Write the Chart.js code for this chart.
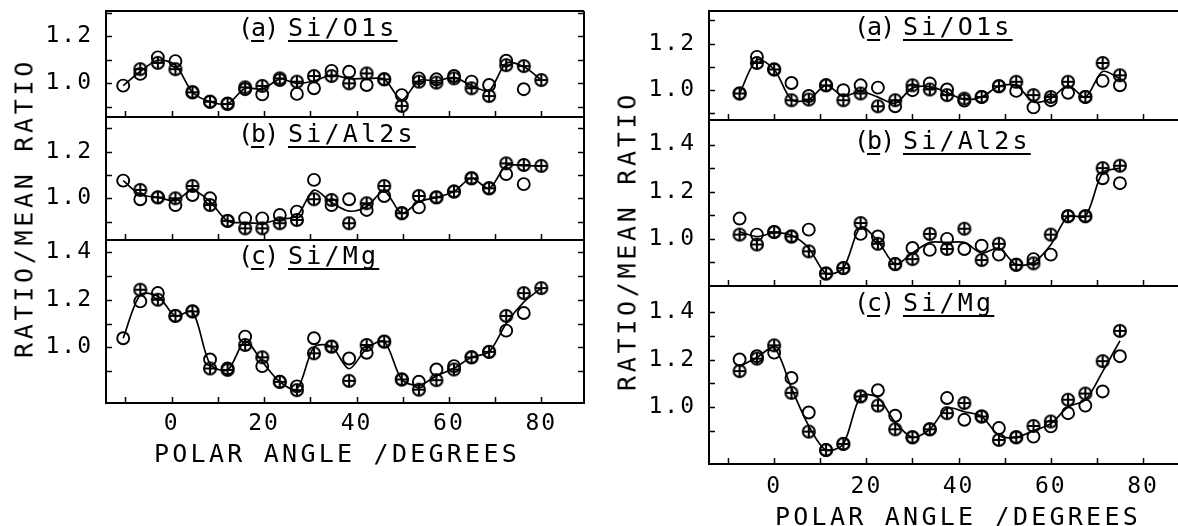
<!DOCTYPE html>
<html><head><meta charset="utf-8">
<script src="https://cdn.jsdelivr.net/npm/chart.js@4/dist/chart.umd.min.js"></script>
<style>
html,body{margin:0;padding:0;background:#fff;overflow:hidden;width:1178px;height:526px;position:relative;}
canvas.cv{position:absolute;}
.txt{position:absolute;font-family:'DejaVu Sans Mono',monospace;font-size:25px;line-height:25px;color:#000;white-space:nowrap;}
.txt u{text-decoration:underline;text-decoration-thickness:2px;text-underline-offset:4px;text-decoration-skip-ink:none;}
.ytitle{letter-spacing:3.7px;transform:translate(-50%,-50%) rotate(-90deg);}
.xtitle{letter-spacing:3.25px;transform:translateX(-50%);}
</style></head><body>
<script>
// ---------------- data ----------------
const leftAngles  = [-10.5, -6.8, -3.0, 0.8, 4.5, 8.3, 12.1, 15.9, 19.6, 23.4, 27.1, 30.8, 34.6, 38.4, 42.2, 46.0, 49.8, 53.5, 57.3, 61.1, 64.9, 68.7, 72.4, 76.2, 80.0];
const rightAngles = [-7.5, -3.75, 0, 3.75, 7.5, 11.25, 15, 18.75, 22.5, 26.25, 30, 33.75, 37.5, 41.25, 45, 48.75, 52.5, 56.25, 60, 63.75, 67.5, 71.25, 75];

// left panel (a) Si/O1s
const leftO1sOpen = [0.99, 1.04, 1.11, 1.094, 0.962, 0.922, 0.915, 0.975, 0.953, 1.014, 0.955, 0.979, 1.053, 1.049, 0.993, 1.017, 0.95, 1.021, 1.017, 1.031, 1.007, 0.993, 1.096, 0.975, null];
const leftO1sPlus = [null, 1.06, 1.087, 1.06, 0.962, 0.922, 0.912, 0.983, 0.989, 1.021, 1.007, 1.031, 1.031, 1.0, 1.042, 1.017, 0.904, 1.007, 1.003, 1.021, 0.979, 0.946, 1.077, 1.073, 1.014];
const leftO1sLine = [0.99, 1.05, 1.098, 1.077, 0.962, 0.922, 0.913, 0.979, 0.975, 1.018, 1.0, 1.01, 1.035, 1.02, 1.02, 1.017, 0.93, 1.012, 1.01, 1.025, 0.99, 0.97, 1.085, 1.07, 1.014];
// left panel (b) Si/Al2s
const leftAlOpen = [1.076, 0.996, 1.004, 0.971, 1.014, 1.0, 0.903, 0.914, 0.914, 0.928, 0.943, 1.079, 0.971, 0.996, 0.95, 1.01, 0.936, 0.961, 1.004, 1.029, 1.086, 1.043, 1.104, 1.061, null];
const leftAlPlus = [null, 1.036, 1.004, 1.0, 1.053, 0.971, 0.903, 0.871, 0.871, 0.893, 0.907, 0.996, 0.993, 0.893, 0.979, 1.053, 0.936, 1.01, 1.004, 1.029, 1.086, 1.043, 1.15, 1.143, 1.139];
const leftAlLine = [1.076, 1.016, 1.004, 0.99, 1.035, 0.985, 0.903, 0.895, 0.893, 0.91, 0.925, 1.035, 0.982, 0.945, 0.965, 1.03, 0.936, 0.985, 1.004, 1.029, 1.086, 1.043, 1.14, 1.14, 1.139];
// left panel (c) Si/Mg
const leftMgOpen = [1.038, 1.193, 1.228, 1.132, 1.151, 0.949, 0.911, 1.045, 0.921, 0.855, 0.836, 1.038, 1.003, 0.953, 0.977, 1.024, 0.865, 0.855, 0.907, 0.921, 0.958, 0.981, 1.07, 1.144, null];
const leftMgPlus = [null, 1.242, 1.2, 1.132, 1.151, 0.911, 0.905, 1.01, 0.958, 0.855, 0.82, 0.975, 1.003, 0.859, 1.01, 1.024, 0.865, 0.822, 0.862, 0.907, 0.958, 0.981, 1.132, 1.228, 1.249];
const leftMgLine = [1.038, 1.22, 1.215, 1.132, 1.151, 0.93, 0.905, 1.025, 0.94, 0.855, 0.825, 1.0, 1.003, 0.91, 0.995, 1.024, 0.865, 0.84, 0.88, 0.912, 0.958, 0.981, 1.1, 1.19, 1.249];

// right panel (a) Si/O1s
const rightO1sOpen = [0.986, 1.143, 1.089, 1.031, 0.975, 1.021, 1.0, 1.021, 1.011, 0.931, 1.0, 1.029, 1.003, 0.955, 0.971, 1.017, 0.997, 0.926, 0.957, 0.989, 0.971, 1.04, 1.021];
const rightO1sPlus = [0.986, 1.117, 1.089, 0.957, 0.96, 1.021, 0.957, 0.986, 0.931, 0.957, 1.021, 1.003, 0.979, 0.964, 0.971, 1.017, 1.036, 0.979, 0.971, 1.036, 0.971, 1.117, 1.064];
const rightO1sLine = [0.986, 1.13, 1.089, 0.96, 0.96, 1.021, 0.975, 0.995, 0.97, 0.944, 1.01, 1.015, 0.99, 0.96, 0.971, 1.017, 1.02, 0.95, 0.964, 1.02, 0.971, 1.08, 1.05];
// right panel (b) Si/Al2s
const rightAlOpen = [1.086, 1.018, 1.029, 1.01, 1.039, 0.853, 0.876, 1.021, 1.01, 0.893, 0.961, 0.953, 1.0, 0.957, 0.971, 0.933, 0.89, 0.914, 0.933, 1.096, 1.096, 1.257, 1.236];
const rightAlPlus = [1.018, 0.976, 1.029, 1.01, 0.947, 0.853, 0.876, 1.067, 0.979, 0.893, 0.914, 1.021, 0.957, 1.043, 0.91, 0.979, 0.89, 0.896, 1.018, 1.096, 1.096, 1.3, 1.31];
const rightAlLine = [1.03, 1.01, 1.025, 1.015, 0.96, 0.853, 0.876, 1.05, 0.99, 0.893, 0.94, 0.985, 0.985, 0.985, 0.94, 0.96, 0.89, 0.9, 0.975, 1.096, 1.096, 1.28, 1.3];
// right panel (c) Si/Mg
const rightMgOpen = [1.201, 1.215, 1.23, 1.123, 0.977, 0.818, 0.844, 1.045, 1.071, 0.963, 0.872, 0.906, 1.038, 0.946, 0.96, 0.911, 0.872, 0.875, 0.918, 0.974, 1.006, 1.066, 1.215];
const rightMgPlus = [1.152, 1.205, 1.261, 1.06, 0.896, 0.818, 0.844, 1.045, 1.006, 0.906, 0.872, 0.906, 0.974, 1.017, 0.96, 0.861, 0.872, 0.92, 0.939, 1.031, 1.057, 1.194, 1.322];
const rightMgLine = [1.17, 1.21, 1.25, 1.08, 0.92, 0.818, 0.844, 1.045, 1.04, 0.935, 0.872, 0.906, 0.995, 0.98, 0.96, 0.88, 0.872, 0.9, 0.93, 1.0, 1.03, 1.15, 1.28];

// ticks
const xTickValues = [-10, 0, 10, 20, 30, 40, 50, 60, 70, 80];
const xTickLabels = ['0', '20', '40', '60', '80'];
const yTicksSmall = [0.9, 1.0, 1.1, 1.2, 1.3];
const yTicksLarge = [0.9, 1.0, 1.1, 1.2, 1.3, 1.4];
const yTickLabels = ['1.0', '1.2', '1.4'];

const yTitle = 'RATIO/MEAN RATIO';
const xTitle = 'POLAR ANGLE /DEGREES';
const subLetters = ['a', 'b', 'c'];
const subNames = ['Si/O1s', 'Si/Al2s', 'Si/Mg'];

// ---------------- layout / style ----------------
const FONT = "'DejaVu Sans Mono', monospace";
const YW = 100, PAD = 4, XH = 44;

const panels = [
  {angles: leftAngles, open: leftO1sOpen, plus: leftO1sPlus, line: leftO1sLine, yTicks: yTicksSmall, xr: [-14.22, 89.24], yr: [0.857, 1.307], box: [106, 11, 584, 117], mirror: true, right: true, bottom: false, sub: 0, lab: [241, 290, 18]},
  {angles: leftAngles, open: leftAlOpen,  plus: leftAlPlus,  line: leftAlLine,  yTicks: yTicksSmall, xr: [-14.22, 89.24], yr: [0.821, 1.349], box: [106, 117, 584, 240], mirror: true, right: true, bottom: false, sub: 1, lab: [241, 290, 124]},
  {angles: leftAngles, open: leftMgOpen,  plus: leftMgPlus,  line: leftMgLine,  yTicks: yTicksLarge, xr: [-14.22, 89.24], yr: [0.766, 1.451], box: [106, 240, 584, 403], mirror: true, right: true, bottom: true, xpad: 7, sub: 2, lab: [241, 290, 246]},
  {angles: rightAngles, open: rightO1sOpen, plus: rightO1sPlus, line: rightO1sLine, yTicks: yTicksSmall, xr: [-14.14, 88.9], yr: [0.872, 1.34], box: [709, 11, 1184, 120], mirror: false, right: false, bottom: false, sub: 0, lab: [857, 905, 17]},
  {angles: rightAngles, open: rightAlOpen,  plus: rightAlPlus,  line: rightAlLine,  yTicks: yTicksLarge, xr: [-14.14, 88.9], yr: [0.80, 1.504], box: [709, 120, 1184, 286], mirror: false, right: false, bottom: false, sub: 1, lab: [857, 905, 131]},
  {angles: rightAngles, open: rightMgOpen,  plus: rightMgPlus,  line: rightMgLine,  yTicks: yTicksLarge, xr: [-14.14, 88.9], yr: [0.759, 1.512], box: [709, 286, 1184, 464], mirror: false, right: false, bottom: true, xpad: 9, sub: 2, lab: [857, 905, 293]}
];

function plusMarker(r, lw) {
  const s = 2 * Math.ceil(r + lw);
  const cv = document.createElement('canvas');
  cv.width = s; cv.height = s;
  const g = cv.getContext('2d');
  const c = s / 2;
  g.strokeStyle = '#000'; g.lineWidth = lw;
  g.beginPath(); g.arc(c, c, r, 0, 2 * Math.PI); g.stroke();
  g.beginPath(); g.moveTo(c - r, c); g.lineTo(c + r, c); g.moveTo(c, c - r); g.lineTo(c, c + r); g.stroke();
  return cv;
}
const plusImg = plusMarker(6, 2.1);

const framePlugin = {
  id: 'frame',
  beforeDraw(chart) { chart.ctx.letterSpacing = '2px'; },
  afterDraw(chart, args, opts) {
    const {ctx, chartArea: a, scales: {x, y}} = chart;
    ctx.save();
    ctx.letterSpacing = '0px';
    ctx.strokeStyle = '#000';
    ctx.lineWidth = 2;
    ctx.beginPath();
    ctx.moveTo(a.right + (opts.right ? 0 : 10), a.top);
    ctx.lineTo(a.left, a.top);
    ctx.lineTo(a.left, a.bottom);
    ctx.lineTo(a.right + (opts.right ? 0 : 10), a.bottom);
    if (opts.right) ctx.lineTo(a.right, a.top);
    ctx.stroke();
    ctx.lineWidth = 1.5;
    ctx.beginPath();
    y.ticks.forEach(t => {
      const py = Math.round(y.getPixelForValue(t.value)) + 0.5;
      ctx.moveTo(a.left, py); ctx.lineTo(a.left + 6, py);
      if (opts.mirror) { ctx.moveTo(a.right, py); ctx.lineTo(a.right - 6, py); }
    });
    x.ticks.forEach(t => {
      const px = Math.round(x.getPixelForValue(t.value)) + 0.5;
      ctx.moveTo(px, a.bottom); ctx.lineTo(px, a.bottom - 6);
    });
    ctx.stroke();
    ctx.restore();
  }
};

const pts = (xs, ys) => xs.map((v, i) => ({x: v, y: ys[i]}));
const near = (v, arr) => arr.find(s => Math.abs(parseFloat(s) - v) < 1e-6);

function makeChart(p) {
  const [L, T, R, B] = p.box;
  const W = YW + (R - L) + PAD;
  const H = PAD + (B - T) + (p.bottom ? XH : PAD);
  const c = document.createElement('canvas');
  c.className = 'cv';
  c.width = W; c.height = H;
  c.style.left = (L - YW) + 'px'; c.style.top = (T - PAD) + 'px';
  c.style.width = W + 'px'; c.style.height = H + 'px';
  document.body.appendChild(c);
  new Chart(c, {
    type: 'line',
    data: {datasets: [
      {data: pts(p.angles, p.plus), showLine: false, pointStyle: plusImg, pointRadius: 6, borderColor: '#000', backgroundColor: '#000'},
      {data: pts(p.angles, p.open), showLine: false, pointStyle: 'circle', pointRadius: 6, pointBorderWidth: 1.9, borderColor: '#000', backgroundColor: 'rgba(0,0,0,0)'},
      {data: pts(p.angles, p.line), showLine: true, pointRadius: 0, borderColor: '#000', borderWidth: 1.7, tension: 0.3, fill: false}
    ]},
    options: {
      responsive: false, animation: false, devicePixelRatio: 1, events: [],
      clip: false,
      layout: {padding: {left: 0, top: PAD, right: PAD, bottom: p.bottom ? 0 : PAD}, autoPadding: false},
      plugins: {legend: {display: false}, tooltip: {enabled: false}, frame: {mirror: p.mirror, right: p.right}},
      scales: {
        x: {
          type: 'linear', position: 'bottom', min: p.xr[0], max: p.xr[1],
          grid: {display: false, drawTicks: false}, border: {display: false},
          ticks: {display: p.bottom, padding: p.xpad || 0, color: '#000', autoSkip: false, maxRotation: 0,
                  font: {family: FONT, size: 23},
                  callback: v => xTickLabels.includes(String(v)) ? String(v) : ''},
          afterBuildTicks: s => { s.ticks = xTickValues.map(v => ({value: v})); },
          afterFit: s => { s.height = p.bottom ? XH : 0; s.paddingLeft = s.paddingRight = s.paddingTop = s.paddingBottom = 0; }
        },
        y: {
          type: 'linear', position: 'left', min: p.yr[0], max: p.yr[1],
          grid: {display: false, drawTicks: false}, border: {display: false},
          ticks: {padding: 13, color: '#000', autoSkip: false, font: {family: FONT, size: 23},
                  callback: v => near(v, yTickLabels) || ''},
          afterBuildTicks: s => { s.ticks = p.yTicks.map(v => ({value: v})); },
          afterFit: s => { s.width = YW; s.paddingLeft = s.paddingRight = s.paddingTop = s.paddingBottom = 0; }
        }
      }
    },
    plugins: [framePlugin]
  });

  // subplot label
  const lab = document.createElement('div');
  lab.className = 'txt';
  lab.style.left = (p.lab[0] - 3) + 'px';
  lab.style.top = (p.lab[2] - 3) + 'px';
  lab.innerHTML = '<span style="letter-spacing:-2px">(<u>' + subLetters[p.sub] + '</u>)</span>' +
    '<span style="position:absolute;left:' + (p.lab[1] - p.lab[0] + 1) + 'px;top:0;letter-spacing:3.2px"><u>' + subNames[p.sub] + '</u></span>';
  document.body.appendChild(lab);
}
panels.forEach(makeChart);

// axis titles
function addText(cls, text, x, y) {
  const d = document.createElement('div');
  d.className = 'txt ' + cls;
  d.textContent = text;
  d.style.left = x + 'px'; d.style.top = y + 'px';
  document.body.appendChild(d);
}
addText('ytitle', yTitle, 24, 208);
addText('ytitle', yTitle, 627, 241);
addText('xtitle', xTitle, 337, 441);
addText('xtitle', xTitle, 958, 504);
</script>
</body></html>
